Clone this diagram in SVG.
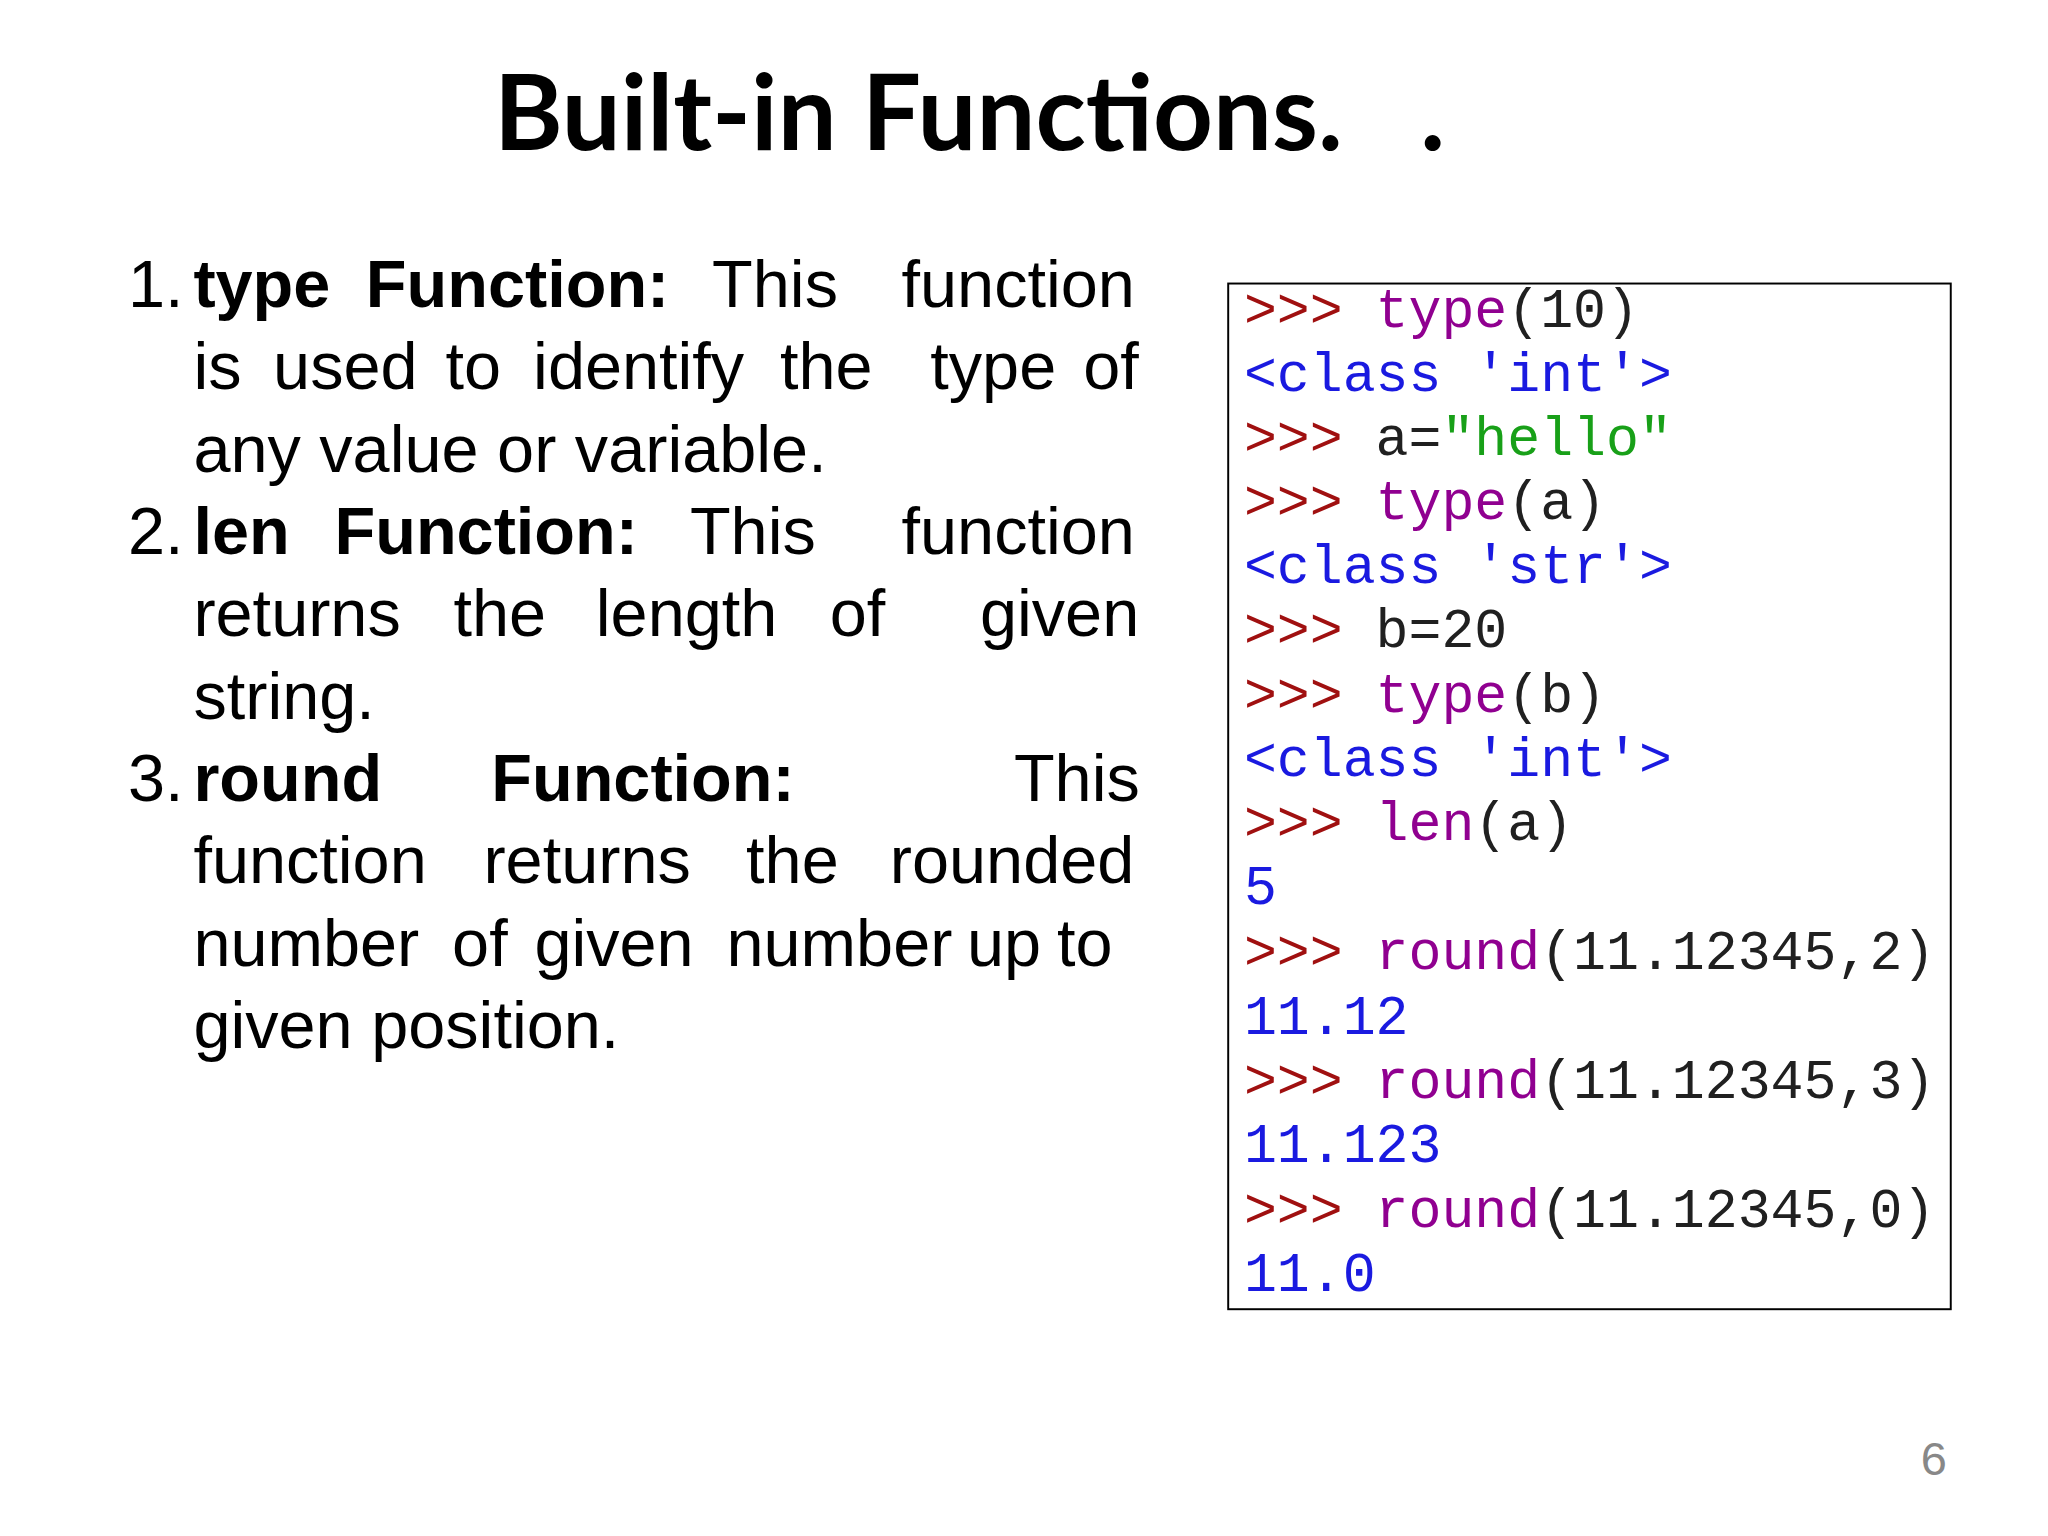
<svg xmlns="http://www.w3.org/2000/svg" width="2048" height="1536" viewBox="0 0 2048 1536">
<style>
.t{font-family:Lato,"Liberation Sans",sans-serif;font-weight:bold;font-size:80px;fill:#000}
.b{font-family:"Liberation Sans",Arial,sans-serif;font-size:51px;fill:#000}
.bb{font-weight:bold}
.c{font-family:"Liberation Mono","Courier New",monospace;font-size:42px;white-space:pre}
.p{fill:#a01010}.f{fill:#900090}.k{fill:#202020}.o{fill:#1a1ae0}.s{fill:#18a018}
</style>
<rect width="2048" height="1536" fill="#fff"/>
<g transform="scale(1.3066)">
<g id="title">
<text class="t" x="378" y="115">Built-in Functions.</text>
<text class="t" x="1087" y="115">.</text>
</g>
<g id="body" class="b">
<text x="98" y="235">1.</text><text x="148" y="235" class="bb">type</text><text x="280" y="235" class="bb">Function:</text><text x="545" y="235">This</text><text x="690" y="235">function</text>
<text x="148" y="298">is</text><text x="209" y="298">used</text><text x="341" y="298">to</text><text x="408" y="298">identify</text><text x="597" y="298">the</text><text x="712" y="298">type</text><text x="829" y="298">of</text>
<text x="148" y="361">any value or variable.</text>
<text x="98" y="424">2.</text><text x="148" y="424" class="bb">len</text><text x="256" y="424" class="bb">Function:</text><text x="528" y="424">This</text><text x="690" y="424">function</text>
<text x="148" y="487">returns</text><text x="347" y="487">the</text><text x="456" y="487">length</text><text x="635" y="487">of</text><text x="750" y="487">given</text>
<text x="148" y="550">string.</text>
<text x="98" y="613">3.</text><text x="148" y="613" class="bb">round</text><text x="376" y="613" class="bb">Function:</text><text x="776" y="613">This</text>
<text x="148" y="676">function</text><text x="370" y="676">returns</text><text x="571" y="676">the</text><text x="681" y="676">rounded</text>
<text x="148" y="739">number</text><text x="346" y="739">of</text><text x="409" y="739">given</text><text x="556" y="739">number</text><text x="740" y="739">up</text><text x="809" y="739">to</text>
<text x="148" y="802">given position.</text>
</g>
<g id="code">
<rect x="940" y="217" width="553" height="785" fill="#fff" stroke="#000" stroke-width="1.5"/>
<g class="c">
<text x="952" y="250" xml:space="preserve"><tspan class="p">&gt;&gt;&gt; </tspan><tspan class="f">type</tspan><tspan class="k">(10)</tspan></text>
<text x="952" y="299" xml:space="preserve" class="o">&lt;class 'int'&gt;</text>
<text x="952" y="348" xml:space="preserve"><tspan class="p">&gt;&gt;&gt; </tspan><tspan class="k">a=</tspan><tspan class="s">"hello"</tspan></text>
<text x="952" y="397" xml:space="preserve"><tspan class="p">&gt;&gt;&gt; </tspan><tspan class="f">type</tspan><tspan class="k">(a)</tspan></text>
<text x="952" y="446" xml:space="preserve" class="o">&lt;class 'str'&gt;</text>
<text x="952" y="495" xml:space="preserve"><tspan class="p">&gt;&gt;&gt; </tspan><tspan class="k">b=20</tspan></text>
<text x="952" y="545" xml:space="preserve"><tspan class="p">&gt;&gt;&gt; </tspan><tspan class="f">type</tspan><tspan class="k">(b)</tspan></text>
<text x="952" y="594" xml:space="preserve" class="o">&lt;class 'int'&gt;</text>
<text x="952" y="643" xml:space="preserve"><tspan class="p">&gt;&gt;&gt; </tspan><tspan class="f">len</tspan><tspan class="k">(a)</tspan></text>
<text x="952" y="692" class="o">5</text>
<text x="952" y="742" xml:space="preserve"><tspan class="p">&gt;&gt;&gt; </tspan><tspan class="f">round</tspan><tspan class="k">(11.12345,2)</tspan></text>
<text x="952" y="791" class="o">11.12</text>
<text x="952" y="840" xml:space="preserve"><tspan class="p">&gt;&gt;&gt; </tspan><tspan class="f">round</tspan><tspan class="k">(11.12345,3)</tspan></text>
<text x="952" y="889" class="o">11.123</text>
<text x="952" y="939" xml:space="preserve"><tspan class="p">&gt;&gt;&gt; </tspan><tspan class="f">round</tspan><tspan class="k">(11.12345,0)</tspan></text>
<text x="952" y="988" class="o">11.0</text>
</g>
</g>
<text x="1490" y="1129" text-anchor="end" style="font-family:'Liberation Sans',sans-serif;font-size:36px;fill:#888">6</text>
</g>
</svg>
